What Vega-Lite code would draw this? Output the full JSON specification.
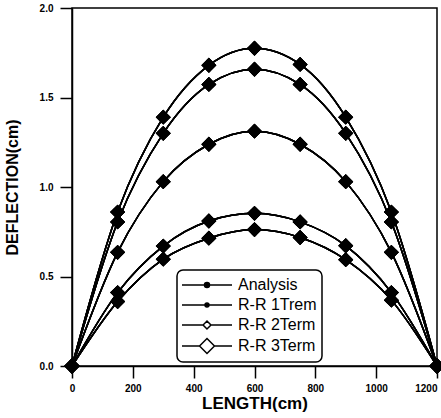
{
  "$schema": "https://vega.github.io/schema/vega-lite/v6.json",
  "width": 365,
  "height": 358,
  "autosize": {"type": "none"},
  "padding": {"left": 72, "top": 8, "right": 4, "bottom": 52},
  "background": "white",
  "config": {
    "font": "Liberation Sans",
    "view": {"stroke": "black", "strokeWidth": 1.5},
    "axis": {
      "domainColor": "black", "domainWidth": 1.5,
      "tickColor": "black", "tickWidth": 1.5, "tickSize": 12,
      "labelFont": "Liberation Sans", "labelFontWeight": "bold", "labelFontSize": 10, "labelColor": "black",
      "titleFont": "Liberation Sans", "titleFontWeight": "bold", "titleColor": "black",
      "grid": false
    },
    "legend": {
      "orient": "none",
      "legendX": 105,
      "legendY": 262,
      "padding": 5,
      "rowPadding": 2,
      "strokeColor": "black",
      "strokeWidth": 1.5,
      "fillColor": "white",
      "cornerRadius": 6,
      "labelFont": "Liberation Sans",
      "labelFontSize": 16,
      "labelColor": "black",
      "labelOffset": 21,
      "symbolOffset": 15,
      "symbolSize": 324,
      "symbolStrokeWidth": 1.5,
      "symbolStrokeColor": "black"
    }
  },
  "data": {
    "values": [
      {"case": "A", "x": 0, "Analysis": 0, "R-R 1Trem": 0, "R-R 2Term": 0, "R-R 3Term": 0},
      {"case": "A", "x": 150, "Analysis": 0.86, "R-R 1Trem": 0.86, "R-R 2Term": 0.86, "R-R 3Term": 0.86},
      {"case": "A", "x": 300, "Analysis": 1.39, "R-R 1Trem": 1.39, "R-R 2Term": 1.39, "R-R 3Term": 1.39},
      {"case": "A", "x": 450, "Analysis": 1.68, "R-R 1Trem": 1.68, "R-R 2Term": 1.68, "R-R 3Term": 1.68},
      {"case": "A", "x": 600, "Analysis": 1.775, "R-R 1Trem": 1.775, "R-R 2Term": 1.775, "R-R 3Term": 1.775},
      {"case": "A", "x": 750, "Analysis": 1.685, "R-R 1Trem": 1.685, "R-R 2Term": 1.685, "R-R 3Term": 1.685},
      {"case": "A", "x": 900, "Analysis": 1.39, "R-R 1Trem": 1.39, "R-R 2Term": 1.39, "R-R 3Term": 1.39},
      {"case": "A", "x": 1050, "Analysis": 0.86, "R-R 1Trem": 0.86, "R-R 2Term": 0.86, "R-R 3Term": 0.86},
      {"case": "A", "x": 1200, "Analysis": 0, "R-R 1Trem": 0, "R-R 2Term": 0, "R-R 3Term": 0},
      {"case": "B", "x": 0, "Analysis": 0, "R-R 1Trem": 0, "R-R 2Term": 0, "R-R 3Term": 0},
      {"case": "B", "x": 150, "Analysis": 0.805, "R-R 1Trem": 0.805, "R-R 2Term": 0.805, "R-R 3Term": 0.805},
      {"case": "B", "x": 300, "Analysis": 1.3, "R-R 1Trem": 1.3, "R-R 2Term": 1.3, "R-R 3Term": 1.3},
      {"case": "B", "x": 450, "Analysis": 1.573, "R-R 1Trem": 1.573, "R-R 2Term": 1.573, "R-R 3Term": 1.573},
      {"case": "B", "x": 600, "Analysis": 1.658, "R-R 1Trem": 1.658, "R-R 2Term": 1.658, "R-R 3Term": 1.658},
      {"case": "B", "x": 750, "Analysis": 1.573, "R-R 1Trem": 1.573, "R-R 2Term": 1.573, "R-R 3Term": 1.573},
      {"case": "B", "x": 900, "Analysis": 1.3, "R-R 1Trem": 1.3, "R-R 2Term": 1.3, "R-R 3Term": 1.3},
      {"case": "B", "x": 1050, "Analysis": 0.805, "R-R 1Trem": 0.805, "R-R 2Term": 0.805, "R-R 3Term": 0.805},
      {"case": "B", "x": 1200, "Analysis": 0, "R-R 1Trem": 0, "R-R 2Term": 0, "R-R 3Term": 0},
      {"case": "C", "x": 0, "Analysis": 0, "R-R 1Trem": 0, "R-R 2Term": 0, "R-R 3Term": 0},
      {"case": "C", "x": 150, "Analysis": 0.635, "R-R 1Trem": 0.635, "R-R 2Term": 0.635, "R-R 3Term": 0.635},
      {"case": "C", "x": 300, "Analysis": 1.03, "R-R 1Trem": 1.03, "R-R 2Term": 1.03, "R-R 3Term": 1.03},
      {"case": "C", "x": 450, "Analysis": 1.239, "R-R 1Trem": 1.239, "R-R 2Term": 1.239, "R-R 3Term": 1.239},
      {"case": "C", "x": 600, "Analysis": 1.312, "R-R 1Trem": 1.312, "R-R 2Term": 1.312, "R-R 3Term": 1.312},
      {"case": "C", "x": 750, "Analysis": 1.239, "R-R 1Trem": 1.239, "R-R 2Term": 1.239, "R-R 3Term": 1.239},
      {"case": "C", "x": 900, "Analysis": 1.03, "R-R 1Trem": 1.03, "R-R 2Term": 1.03, "R-R 3Term": 1.03},
      {"case": "C", "x": 1050, "Analysis": 0.635, "R-R 1Trem": 0.635, "R-R 2Term": 0.635, "R-R 3Term": 0.635},
      {"case": "C", "x": 1200, "Analysis": 0, "R-R 1Trem": 0, "R-R 2Term": 0, "R-R 3Term": 0},
      {"case": "D", "x": 0, "Analysis": 0, "R-R 1Trem": 0, "R-R 2Term": 0, "R-R 3Term": 0},
      {"case": "D", "x": 150, "Analysis": 0.41, "R-R 1Trem": 0.41, "R-R 2Term": 0.41, "R-R 3Term": 0.41},
      {"case": "D", "x": 300, "Analysis": 0.67, "R-R 1Trem": 0.67, "R-R 2Term": 0.67, "R-R 3Term": 0.67},
      {"case": "D", "x": 450, "Analysis": 0.81, "R-R 1Trem": 0.81, "R-R 2Term": 0.81, "R-R 3Term": 0.81},
      {"case": "D", "x": 600, "Analysis": 0.853, "R-R 1Trem": 0.853, "R-R 2Term": 0.853, "R-R 3Term": 0.853},
      {"case": "D", "x": 750, "Analysis": 0.805, "R-R 1Trem": 0.805, "R-R 2Term": 0.805, "R-R 3Term": 0.805},
      {"case": "D", "x": 900, "Analysis": 0.672, "R-R 1Trem": 0.672, "R-R 2Term": 0.672, "R-R 3Term": 0.672},
      {"case": "D", "x": 1050, "Analysis": 0.41, "R-R 1Trem": 0.41, "R-R 2Term": 0.41, "R-R 3Term": 0.41},
      {"case": "D", "x": 1200, "Analysis": 0, "R-R 1Trem": 0, "R-R 2Term": 0, "R-R 3Term": 0},
      {"case": "E", "x": 0, "Analysis": 0, "R-R 1Trem": 0, "R-R 2Term": 0, "R-R 3Term": 0},
      {"case": "E", "x": 150, "Analysis": 0.36, "R-R 1Trem": 0.36, "R-R 2Term": 0.36, "R-R 3Term": 0.36},
      {"case": "E", "x": 300, "Analysis": 0.597, "R-R 1Trem": 0.597, "R-R 2Term": 0.597, "R-R 3Term": 0.597},
      {"case": "E", "x": 450, "Analysis": 0.714, "R-R 1Trem": 0.714, "R-R 2Term": 0.714, "R-R 3Term": 0.714},
      {"case": "E", "x": 600, "Analysis": 0.762, "R-R 1Trem": 0.762, "R-R 2Term": 0.762, "R-R 3Term": 0.762},
      {"case": "E", "x": 750, "Analysis": 0.718, "R-R 1Trem": 0.718, "R-R 2Term": 0.718, "R-R 3Term": 0.718},
      {"case": "E", "x": 900, "Analysis": 0.594, "R-R 1Trem": 0.594, "R-R 2Term": 0.594, "R-R 3Term": 0.594},
      {"case": "E", "x": 1050, "Analysis": 0.368, "R-R 1Trem": 0.368, "R-R 2Term": 0.368, "R-R 3Term": 0.368},
      {"case": "E", "x": 1200, "Analysis": 0, "R-R 1Trem": 0, "R-R 2Term": 0, "R-R 3Term": 0}
    ]
  },
  "transform": [
    {"fold": ["Analysis", "R-R 1Trem", "R-R 2Term", "R-R 3Term"], "as": ["method", "y"]}
  ],
  "encoding": {
    "x": {
      "field": "x", "type": "quantitative",
      "scale": {"domain": [0, 1200], "nice": false, "zero": false},
      "axis": {"values": [0, 200, 400, 600, 800, 1000, 1200], "format": "d", "title": "LENGTH(cm)", "titleFontSize": 17, "titlePadding": 2, "labelPadding": 5, "labelFlush": false,
        "labelAlign": {"condition": {"test": "datum.value >= 1200", "value": "right"}, "value": "center"}}
    },
    "y": {
      "field": "y", "type": "quantitative",
      "scale": {"domain": [0, 2], "nice": false},
      "axis": {"values": [0, 0.5, 1, 1.5, 2], "format": ".1f", "title": "DEFLECTION(cm)", "titleFontSize": 16, "titlePadding": 19, "labelPadding": 7, "labelFlush": false}
    }
  },
  "layer": [
    {
      "mark": {"type": "line", "interpolate": "monotone", "color": "black", "strokeWidth": 1.5},
      "encoding": {"detail": [{"field": "case"}, {"field": "method"}]}
    },
    {
      "mark": {"type": "point", "size": 1, "opacity": 1, "strokeWidth": 1.5},
      "encoding": {
        "shape": {
          "field": "method", "type": "nominal",
          "scale": {
            "domain": ["Analysis", "R-R 1Trem", "R-R 2Term", "R-R 3Term"],
            "range": [
              "M-2.78,0H2.78M-0.28,0A0.28,0.28,0,1,1,0.28,0A0.28,0.28,0,1,1,-0.28,0Z",
              "M-2.78,0H2.78M-0.22,0A0.22,0.22,0,1,1,0.22,0A0.22,0.22,0,1,1,-0.22,0Z",
              "M-2.78,0H-0.44M0.44,0H2.78M-0.44,0L0,-0.44L0.44,0L0,0.44Z",
              "M-2.78,0H-0.83M0.83,0H2.78M-0.83,0L0,-0.83L0.83,0L0,0.83Z"
            ]
          },
          "legend": {"title": null}
        },
        "fill": {
          "field": "method", "type": "nominal",
          "scale": {"domain": ["Analysis", "R-R 1Trem", "R-R 2Term", "R-R 3Term"], "range": ["black", "black", "white", "white"]},
          "legend": {"title": null}
        },
        "stroke": {
          "field": "method", "type": "nominal",
          "scale": {"domain": ["Analysis", "R-R 1Trem", "R-R 2Term", "R-R 3Term"], "range": ["black", "black", "black", "black"]},
          "legend": {"title": null}
        }
      }
    },
    {
      "mark": {"type": "point", "shape": "diamond", "filled": true, "size": 220, "opacity": 1, "color": "black"},
      "encoding": {}
    }
  ]
}
